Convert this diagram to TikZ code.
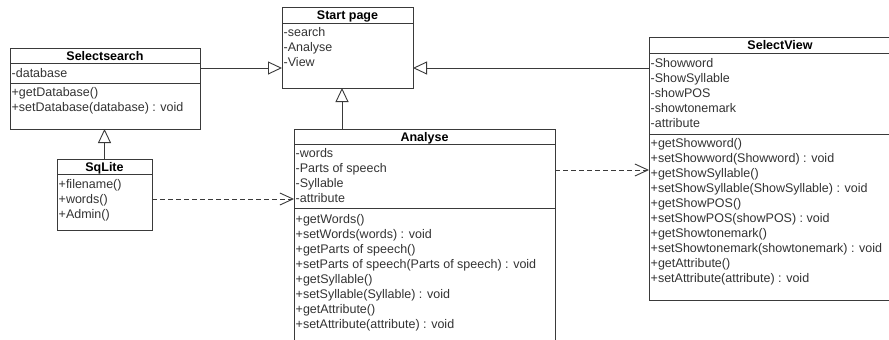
\documentclass[tikz,border=0pt]{standalone}
\usepackage{fontspec}
\setmainfont{Liberation Sans}
\usetikzlibrary{arrows.meta}
\definecolor{linec}{HTML}{3A3A3A}
\definecolor{txtc}{HTML}{333333}
\begin{document}
\begin{tikzpicture}[x=1pt,y=-1pt,
  box/.style={draw=linec, line width=0.9pt, anchor=north west, inner sep=0pt, outer sep=0pt},
  sep/.style={draw=linec, line width=0.9pt},
  ttl/.style={font=\fontsize{12.5}{15}\selectfont\bfseries, anchor=base, inner sep=0pt, text=black},
  row/.style={font=\fontsize{12.5}{15}\selectfont, anchor=base west, inner sep=0pt, text=txtc},
  gen/.style={draw=linec, line width=0.9pt, -{Triangle[open, length=14pt, width=13pt]}},
  dep/.style={draw=linec, line width=0.9pt, dash pattern=on 5pt off 3pt, -{Straight Barb[length=13pt, width=12pt]}},
]
\useasboundingbox (0,0) rectangle (889,340);
\fill[white] (0,0) rectangle (889,340);
\clip (0,0) rectangle (889,340);

% ---------- Selectsearch ----------
\node[box, minimum width=190pt, minimum height=81pt] (ss) at (10,48) {};
\draw[sep] (10,63) -- (200,63);
\draw[sep] (10,83) -- (200,83);
\node[ttl] (ss-t) at (105,60.5) {Selectsearch};
\node[row] (ss-a1) at (11.5,77.5) {-database};
\node[row] (ss-m1) at (11.5,96.5) {+getDatabase()};
\node[row] (ss-m2) at (11.5,111.5) {+setDatabase(database) : void};

% ---------- SqLite ----------
\node[box, minimum width=95pt, minimum height=71pt] (sq) at (57,159) {};
\draw[sep] (57,174) -- (152,174);
\node[ttl] (sq-t) at (104.5,171.5) {SqLite};
\node[row] (sq-m1) at (58.5,188.5) {+filename()};
\node[row] (sq-m2) at (58.5,203.5) {+words()};
\node[row] (sq-m3) at (58.5,218.5) {+Admin()};

% ---------- Start page ----------
\node[box, minimum width=131pt, minimum height=81pt] (sp) at (282,7) {};
\draw[sep] (282,23) -- (413,23);
\node[ttl] (sp-t) at (347.5,19.5) {Start page};
\node[row] (sp-a1) at (283.5,36.5) {-search};
\node[row] (sp-a2) at (283.5,51.5) {-Analyse};
\node[row] (sp-a3) at (283.5,66.5) {-View};

% ---------- Analyse ----------
\node[box, minimum width=261pt, minimum height=230pt] (an) at (294,129) {};
\draw[sep] (294,144) -- (555,144);
\draw[sep] (294,208) -- (555,208);
\node[ttl] (an-t) at (424.5,141.5) {Analyse};
\foreach \txt [count=\i from 0] in {-words, -Parts of speech, -Syllable, -attribute}
  \node[row] (an-a\i) at (295.5,157.5+15*\i) {\txt};
\foreach \txt [count=\i from 0] in {+getWords(), +setWords(words) : void, +getParts of speech(),
    +setParts of speech(Parts of speech) : void, +getSyllable(), +setSyllable(Syllable) : void,
    +getAttribute(), +setAttribute(attribute) : void}
  \node[row] (an-m\i) at (295.5,223.5+15*\i) {\txt};

% ---------- SelectView ----------
\node[box, minimum width=262pt, minimum height=263pt] (sv) at (649,37) {};
\draw[sep] (649,53) -- (911,53);
\draw[sep] (649,134) -- (911,134);
\node[ttl] (sv-t) at (780,49.5) {SelectView};
\foreach \txt [count=\i from 0] in {-Showword, -ShowSyllable, -showPOS, -showtonemark, -attribute}
  \node[row] (sv-a\i) at (650.5,67.5+15*\i) {\txt};
\foreach \txt [count=\i from 0] in {+getShowword(), +setShowword(Showword) : void, +getShowSyllable(),
    +setShowSyllable(ShowSyllable) : void, +getShowPOS(), +setShowPOS(showPOS) : void,
    +getShowtonemark(), +setShowtonemark(showtonemark) : void, +getAttribute(),
    +setAttribute(attribute) : void}
  \node[row] (sv-m\i) at (650.5,147.5+15*\i) {\txt};

% ---------- connectors ----------
\coordinate (ytop) at (0,68);
\coordinate (xan) at (342,0);
\coordinate (ydep1) at (0,199);
\coordinate (ydep2) at (0,170);

\draw[gen] (sq.north) -- (sq.north |- ss.south);
\draw[gen] (ss.east |- ytop) -- (sp.west |- ytop);
\draw[gen] (sv.west |- ytop) -- (sp.east |- ytop);
\draw[gen] (an.north -| xan) -- (sp.south -| xan);
\draw[dep] (sq.east |- ydep1) -- (an.west |- ydep1);
\draw[dep] (an.east |- ydep2) -- (sv.west |- ydep2);
\end{tikzpicture}
\end{document}
